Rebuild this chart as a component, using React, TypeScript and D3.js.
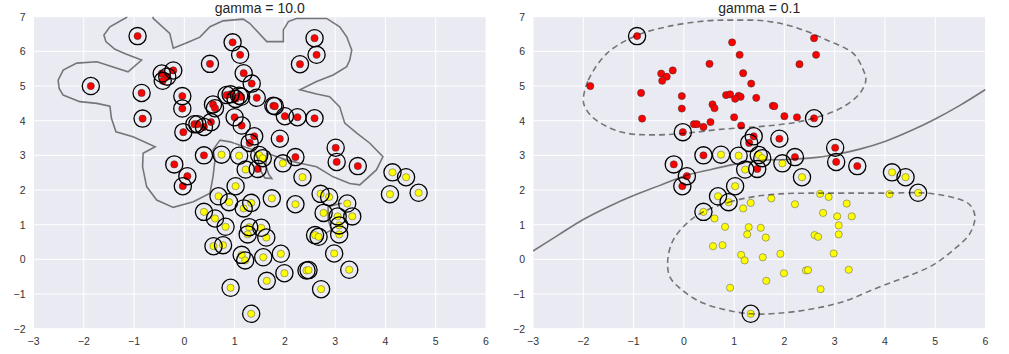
import React from "react";
import * as d3 from "d3";

// axis ticks shared by both panels
const xTicks = [-3, -2, -1, 0, 1, 2, 3, 4, 5, 6];
const yTicks = [-2, -1, 0, 1, 2, 3, 4, 5, 6, 7];

// class 0 (red) blob
const redPoints: [number, number][] = [
  [-0.93, 6.44], [-1.86, 5.0], [-0.85, 4.8], [-0.83, 4.06], [-0.45, 5.36],
  [-0.34, 5.27], [-0.43, 5.15], [-0.22, 5.45], [-0.04, 4.71], [-0.04, 4.35],
  [-0.02, 3.67], [0.2, 3.9], [0.26, 3.9], [0.39, 3.82], [0.51, 5.64],
  [0.57, 4.47], [0.61, 4.36], [0.53, 3.96], [0.39, 3.0], [-0.2, 2.74],
  [0.06, 2.4], [-0.03, 2.11], [0.96, 6.26], [1.11, 5.9], [1.18, 5.37],
  [0.84, 4.74], [0.92, 4.76], [1.09, 4.72], [1.13, 4.69], [1.02, 4.63],
  [1.0, 4.1], [1.14, 3.86], [1.34, 5.07], [1.44, 4.66], [1.77, 4.43],
  [1.8, 4.42], [2.0, 4.13], [2.25, 4.1], [2.59, 4.07], [1.39, 3.55],
  [1.3, 3.36], [1.46, 2.61], [1.9, 3.48], [2.21, 2.95], [3.01, 3.22],
  [3.03, 2.81], [3.45, 2.69], [2.3, 5.63], [2.59, 6.38], [2.63, 5.9],
];

// class 1 (yellow) blob
const yellowPoints: [number, number][] = [
  [0.74, 3.02], [1.09, 2.99], [1.49, 3.01], [1.56, 2.92], [1.22, 2.59],
  [1.96, 2.77], [2.35, 2.37], [4.14, 2.51], [4.41, 2.37], [4.66, 1.92],
  [4.09, 1.88], [1.02, 2.11], [0.68, 1.82], [0.89, 1.65], [0.39, 1.37],
  [0.61, 1.18], [0.82, 0.94], [0.58, 0.38], [0.77, 0.41], [1.18, 1.47],
  [1.33, 1.63], [1.74, 1.76], [2.21, 1.59], [2.71, 1.89], [2.88, 1.8],
  [3.24, 1.61], [2.77, 1.34], [3.05, 1.24], [3.34, 1.24], [3.08, 0.98],
  [3.08, 0.72], [2.6, 0.7], [2.67, 0.65], [1.29, 0.93], [1.26, 0.72],
  [1.53, 0.91], [1.63, 0.63], [1.14, 0.13], [1.21, -0.03], [1.57, 0.06],
  [1.92, 0.16], [2.98, 0.17], [2.43, -0.32], [2.47, -0.31], [3.28, -0.3],
  [1.99, -0.4], [1.64, -0.62], [2.72, -0.86], [0.92, -0.82], [1.33, -1.57],
];

// support vectors for gamma = 0.1 (indices into the arrays above)
const redSupportNarrow = [0, 10, 18, 19, 20, 21, 38, 39, 40, 41, 42, 43, 44, 45, 46];
const yellowSupportNarrow = [0, 1, 2, 3, 4, 5, 6, 7, 8, 9, 11, 12, 13, 14, 49];

// gamma = 10 decision boundary (traced)
const boundaryWide: [number, number][] = [
  [-1.1, 7.3], [-1.15, 6.98], [-1.48, 6.71], [-1.6, 6.47], [-1.56, 6.28], [-1.38, 6.06],
  [-1.15, 5.92], [-0.85, 5.75], [-1.12, 5.41], [-1.74, 5.7], [-2.14, 5.66], [-2.41, 5.46],
  [-2.51, 5.17], [-2.49, 4.93], [-2.41, 4.74], [-2.08, 4.55], [-1.74, 4.5], [-1.48, 4.42],
  [-1.45, 4.07], [-1.36, 3.68], [-1.02, 3.54], [-0.58, 3.25], [-0.82, 3.06], [-0.83, 2.67],
  [-0.75, 2.1], [-0.55, 1.71], [-0.22, 1.5], [0.18, 1.66], [0.51, 1.91], [0.57, 2.38],
  [0.61, 2.87], [0.57, 3.16], [0.71, 3.44], [0.91, 3.39], [1.37, 3.16], [1.45, 2.95],
  [1.52, 2.55], [1.6, 2.35], [1.74, 2.33], [1.68, 2.45], [1.62, 2.7], [1.64, 3.06],
  [2.03, 2.87], [2.3, 2.77], [2.63, 2.67], [2.96, 2.38], [3.29, 2.19], [3.49, 2.15],
  [3.82, 2.58], [3.95, 2.96], [3.69, 3.35], [3.43, 3.64], [3.19, 3.93], [3.09, 4.4],
  [2.89, 4.69], [2.63, 4.77], [2.3, 4.89], [2.63, 5.13], [2.96, 5.32], [3.23, 5.56],
  [3.29, 5.75], [3.33, 6.04], [3.23, 6.42], [3.09, 6.71], [2.83, 6.95], [2.23, 6.95],
  [2.07, 6.86], [1.97, 6.62], [1.97, 6.28], [1.64, 6.28], [1.3, 6.81], [1.17, 6.93],
  [0.77, 6.88], [0.51, 6.71], [0.31, 6.41], [0.05, 6.25], [-0.22, 6.09], [-0.29, 6.52],
  [-0.62, 6.95], [-0.62, 7.3],
];
const islandWide: [number, number][] = [
  [3.13, 1.62], [2.86, 1.52], [2.86, 1.14], [2.93, 0.85], [2.8, 0.75],
];

// gamma = 0.1 decision boundary and margins
const boundaryNarrow: [number, number][] = [
  [-3.0, 0.24], [-2.5, 0.7], [-2.0, 1.15], [-1.5, 1.52], [-1.0, 1.84], [-0.5, 2.12],
  [0.0, 2.4], [0.5, 2.58], [1.0, 2.74], [1.5, 2.85], [2.0, 2.88], [2.5, 2.92],
  [3.0, 3.02], [3.5, 3.18], [4.0, 3.4], [4.5, 3.7], [5.0, 4.05], [5.5, 4.45], [6.0, 4.9],
];
const marginRed: [number, number][] = [
  [-2.0, 4.6], [-1.9, 5.17], [-1.53, 5.94], [-1.0, 6.42], [-0.34, 6.71], [0.45, 6.88],
  [1.0, 6.9], [1.6, 6.88], [2.18, 6.71], [2.84, 6.33], [3.37, 5.94], [3.57, 5.46],
  [3.62, 5.17], [3.5, 4.79], [3.17, 4.4], [2.7, 4.12], [2.18, 3.94], [1.5, 3.83],
  [0.72, 3.75], [0.05, 3.64], [-0.61, 3.59], [-1.14, 3.64], [-1.53, 3.83], [-1.83, 4.12],
  [-1.97, 4.4],
];
const marginYellow: [number, number][] = [
  [0.39, 1.37], [0.9, 1.65], [1.4, 1.81], [1.9, 1.89], [2.5, 1.91], [3.2, 1.91],
  [4.0, 1.91], [4.83, 1.91], [5.42, 1.76], [5.69, 1.57], [5.79, 1.23], [5.69, 0.75],
  [5.36, 0.27], [4.96, -0.16], [4.43, -0.5], [3.83, -0.83], [3.17, -1.22], [2.51, -1.44],
  [1.84, -1.56], [1.33, -1.57], [0.85, -1.46], [0.32, -1.22], [-0.08, -0.83], [-0.28, -0.5],
  [-0.32, -0.02], [-0.21, 0.56], [0.06, 1.04],
];

const FONT = "'Liberation Sans', Arial, sans-serif";
const PLOT_W = 452.5;
const PLOT_TOP = 16.7;
const PLOT_H = 312;

type Curve = { pts: [number, number][]; closed?: boolean; smooth?: boolean; dashed?: boolean };

const fmt = (v: number) => (v < 0 ? "\u2212" + Math.abs(v) : String(v));

function Panel({ id, title, left, redSv, yellowSv, curves }: {
  id: string; title: string; left: number; redSv: number[]; yellowSv: number[]; curves: Curve[];
}) {
  const x = d3.scaleLinear().domain([-3, 6]).range([left, left + PLOT_W]);
  const y = d3.scaleLinear().domain([-2, 7]).range([PLOT_TOP + PLOT_H, PLOT_TOP]);

  const paths = curves.map((c) => {
    const curve = c.smooth
      ? (c.closed ? d3.curveCatmullRomClosed : d3.curveCatmullRom)
      : (c.closed ? d3.curveLinearClosed : d3.curveLinear);
    const line = d3.line<[number, number]>().x((d) => x(d[0])).y((d) => y(d[1])).curve(curve);
    return { d: line(c.pts) || "", dashed: c.dashed };
  });

  const svPoints = [
    ...redSv.map((i) => redPoints[i]),
    ...yellowSv.map((i) => yellowPoints[i]),
  ];

  return (
    <g>
      <defs>
        <clipPath id={id}>
          <rect x={left} y={PLOT_TOP} width={PLOT_W} height={PLOT_H} />
        </clipPath>
      </defs>
      <rect x={left} y={PLOT_TOP} width={PLOT_W} height={PLOT_H} fill="#EAEAF2" />
      {xTicks.map((t) => (
        <line key={"gx" + t} x1={x(t)} x2={x(t)} y1={PLOT_TOP} y2={PLOT_TOP + PLOT_H} stroke="#fff" strokeWidth={1} />
      ))}
      {yTicks.map((t) => (
        <line key={"gy" + t} x1={left} x2={left + PLOT_W} y1={y(t)} y2={y(t)} stroke="#fff" strokeWidth={1} />
      ))}
      <g clipPath={`url(#${id})`}>
        {redPoints.map((p, i) => (
          <circle key={"r" + i} cx={x(p[0])} cy={y(p[1])} r={3.6} fill="#ff0000" stroke="#333" strokeWidth={0.5} />
        ))}
        {yellowPoints.map((p, i) => (
          <circle key={"y" + i} cx={x(p[0])} cy={y(p[1])} r={3.6} fill="#ffff00" stroke="#555" strokeWidth={0.5} />
        ))}
        {paths.map((p, i) => (
          <path key={"c" + i} d={p.d} fill="none" stroke="#000" strokeOpacity={0.5} strokeWidth={1.6}
            strokeDasharray={p.dashed ? "6,4" : undefined} />
        ))}
        {svPoints.map((p, i) => (
          <circle key={"s" + i} cx={x(p[0])} cy={y(p[1])} r={8.6} fill="none" stroke="#000" strokeWidth={1.3} />
        ))}
      </g>
      {xTicks.map((t) => (
        <text key={"tx" + t} x={x(t)} y={PLOT_TOP + PLOT_H + 16} textAnchor="middle" fontSize={10.5} fill="#333" fontFamily={FONT}>
          {fmt(t)}
        </text>
      ))}
      {yTicks.map((t) => (
        <text key={"ty" + t} x={left - 8} y={y(t) + 3.8} textAnchor="end" fontSize={10.5} fill="#333" fontFamily={FONT}>
          {fmt(t)}
        </text>
      ))}
      <text x={left + PLOT_W / 2} y={12.5} textAnchor="middle" fontSize={14} fill="#262626" fontFamily={FONT}>
        {title}
      </text>
    </g>
  );
}

export default function App() {
  const allRed = redPoints.map((_, i) => i);
  const allYellow = yellowPoints.map((_, i) => i);
  return (
    <svg width={1009} height={354} style={{ position: "absolute", left: 0, top: 0, background: "#fff" }}>
      <Panel
        id="clipWide"
        title="gamma = 10.0"
        left={33.5}
        redSv={allRed}
        yellowSv={allYellow}
        curves={[{ pts: boundaryWide, closed: true }, { pts: islandWide }]}
      />
      <Panel
        id="clipNarrow"
        title="gamma = 0.1"
        left={533}
        redSv={redSupportNarrow}
        yellowSv={yellowSupportNarrow}
        curves={[
          { pts: boundaryNarrow, smooth: true },
          { pts: marginRed, smooth: true, closed: true, dashed: true },
          { pts: marginYellow, smooth: true, closed: true, dashed: true },
        ]}
      />
    </svg>
  );
}
